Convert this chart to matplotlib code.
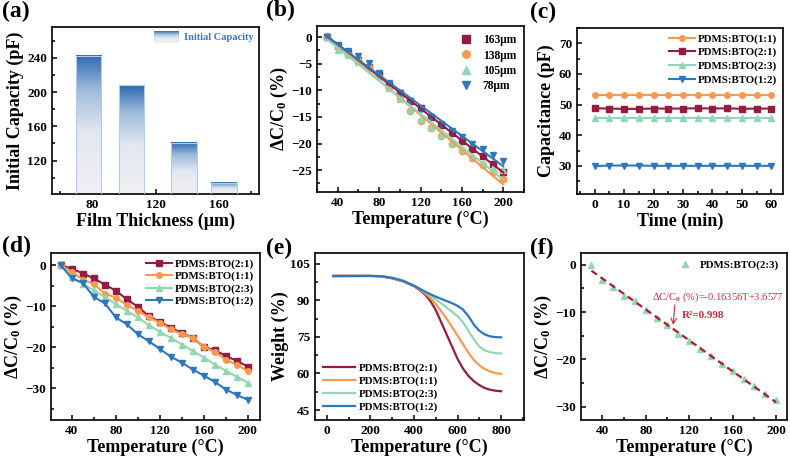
import numpy as np
import matplotlib
matplotlib.use("Agg")
import matplotlib.pyplot as plt
from matplotlib.colors import LinearSegmentedColormap
from matplotlib.ticker import MultipleLocator

plt.rcParams['font.family'] = ['Liberation Serif', 'DejaVu Serif']
plt.rcParams['font.weight'] = 'bold'
plt.rcParams['axes.labelweight'] = 'bold'
plt.rcParams['mathtext.fontset'] = 'custom'
plt.rcParams['mathtext.rm'] = 'Liberation Serif:bold'
plt.rcParams['mathtext.it'] = 'Liberation Serif:bold:italic'
plt.rcParams['mathtext.bf'] = 'Liberation Serif:bold'
plt.rcParams['axes.linewidth'] = 1.2

RED = '#941c41'
ORANGE = '#f8994f'
MINT = '#92d6b3'
BLUE = '#2f77bd'

# (a) initial capacity vs film thickness
thickness = [78, 105, 138, 163]
capacity = [242.7, 208.0, 141.0, 94.4]

# (b) dC/C0 vs temperature for four thicknesses
temp = list(range(30, 201, 10))
b_163 = [0, -1.6, -2.9, -4.2, -5.6, -7.0, -8.9, -10.4, -12.0, -13.4, -15.0, -16.5, -18.0, -19.5, -21.0, -22.4, -23.9, -25.3]
b_138 = [0.3, -1.8, -3.2, -4.3, -5.6, -7.5, -9.6, -11.5, -13.9, -15.7, -17.1, -18.6, -20.1, -21.4, -22.8, -24.1, -25.4, -26.6]
b_105 = [0, -2.4, -3.4, -4.6, -5.8, -7.3, -9.6, -11.7, -13.7, -15.3, -16.8, -18.3, -19.8, -21.1, -22.4, -23.6, -24.5, -25.0]
b_78 = [0, -1.4, -2.6, -3.6, -4.9, -6.7, -8.7, -10.4, -12.0, -13.5, -15.0, -16.4, -17.6, -18.8, -20.0, -21.1, -22.2, -23.3]
b_labels = ['163μm', '138μm', '105μm', '78μm']

# (c) capacitance stability over time
time_min = list(range(0, 61, 5))
c_11 = [53.1] * 13
c_21 = [48.8, 48.7, 48.6, 48.6, 48.7, 48.7, 48.7, 48.8, 48.7, 48.8, 48.6, 48.7, 48.7]
c_23 = [45.6] * 13
c_12 = [29.9, 30.1, 30.1, 30.1, 30.0, 30.0, 30.0, 30.0, 30.0, 30.0, 30.0, 30.0, 30.0]

# (d) dC/C0 vs temperature for four ratios
d_21 = [0, -0.8, -2.0, -3.2, -4.7, -6.2, -8.3, -10.1, -12.4, -13.8, -15.2, -16.5, -17.7, -19.9, -20.7, -22.1, -23.3, -24.7]
d_11 = [0, -1.6, -3.5, -4.6, -6.9, -7.9, -9.7, -11.1, -12.7, -14.0, -15.6, -16.8, -17.6, -19.9, -21.1, -23.0, -24.3, -25.8]
d_23 = [0, -2.8, -4.5, -6.1, -7.7, -9.5, -11.1, -12.7, -14.6, -16.2, -17.7, -19.3, -20.9, -22.5, -24.2, -25.7, -27.2, -28.6]
d_12 = [0, -3.2, -4.3, -7.7, -9.3, -12.7, -14.4, -16.8, -18.5, -20.4, -22.3, -23.7, -25.4, -26.9, -28.4, -30.3, -31.6, -32.8]

# (e) TGA weight loss
t_tga = [30, 100, 150, 200, 250, 300, 350, 400, 425, 450, 475, 500, 525, 550, 575, 600, 625, 650, 675, 700, 725, 750, 775, 800]
w_21 = [100, 100, 100, 100, 99.8, 99.0, 97.8, 95.8, 94.3, 92.5, 89.8, 86.0, 81.0, 76.0, 71.0, 66.0, 62.0, 59.0, 56.8, 55.2, 54.0, 53.3, 52.9, 52.7]
w_11 = [100, 100, 100, 100, 99.9, 99.2, 98.0, 96.0, 94.6, 93.0, 91.0, 88.5, 85.5, 82.5, 79.0, 75.5, 72.0, 68.5, 65.5, 63.3, 61.8, 60.8, 60.1, 59.8]
w_23 = [99.7, 99.8, 99.9, 100, 99.9, 99.2, 98.0, 96.0, 94.8, 93.4, 92.0, 90.4, 88.8, 87.0, 85.3, 83.5, 81.0, 77.5, 74.0, 71.0, 69.5, 68.7, 68.3, 68.2]
w_12 = [100, 100, 100, 100, 99.9, 99.2, 98.0, 96.0, 94.8, 93.6, 92.5, 91.5, 90.6, 89.7, 88.8, 87.7, 86.2, 83.5, 80.0, 77.5, 76.0, 75.2, 74.9, 74.8]

# (f) linear fit for PDMS:BTO(2:3)
f_23 = [0, -3.3, -4.6, -6.5, -7.7, -9.5, -11.2, -12.8, -14.6, -16.2, -17.8, -19.3, -20.9, -22.5, -24.2, -25.7, -27.2, -28.6]
fit_slope = -0.16356
fit_icept = 3.6577

W, H = 790, 459
fig = plt.figure(figsize=(7.9, 4.59), dpi=100)


def add_ax(l, t, r, b):
    return fig.add_axes([l / W, 1 - b / H, (r - l) / W, (b - t) / H])


def style(ax, xmaj, xmin, ymaj, ymin):
    ax.xaxis.set_major_locator(MultipleLocator(xmaj))
    ax.xaxis.set_minor_locator(MultipleLocator(xmin))
    ax.yaxis.set_major_locator(MultipleLocator(ymaj))
    ax.yaxis.set_minor_locator(MultipleLocator(ymin))
    ax.tick_params(which='both', direction='in', labelsize=9.5, width=1.1)
    ax.tick_params(which='major', length=3.5)
    ax.tick_params(which='minor', length=2)


def panel(x, y, letter):
    fig.text(x / W, 1 - y / H, letter, fontsize=17, fontweight='bold', va='top', ha='left')


ylab = r'ΔC/C$_\mathrm{0}$ (%)'
leg_kw = dict(frameon=False, prop={'size': 7.8, 'weight': 'bold'})

# ---------- (a)
ax = add_ax(52, 27, 259, 194)
ylo, yhi = 81, 276
cmap = LinearSegmentedColormap.from_list(
    'bar', [(0, '#f0f0f1'), (0.45, '#e2e7ef'), (0.75, '#9fbbdc'), (1, '#2d6ab0')])
grad = np.linspace(0, 1, 256).reshape(-1, 1)
bw = 16
for xc, h in zip(thickness, capacity):
    ax.imshow(grad, extent=[xc - bw / 2, xc + bw / 2, ylo, h], aspect='auto',
              cmap=cmap, origin='lower', zorder=2)
ax.bar(thickness, capacity, width=bw, color='none', edgecolor='#b3cbe6', lw=0.8, zorder=3)
ax.imshow(grad, extent=[0.493, 0.609, 0.902, 0.97], transform=ax.transAxes,
          aspect='auto', cmap=cmap, origin='lower', zorder=4)
ax.text(0.64, 0.936, 'Initial Capacity', transform=ax.transAxes, color='#3b78b8',
        fontsize=7.5, fontweight='bold', va='center')
ax.set_xlim(55, 185)
ax.set_ylim(ylo, yhi)
style(ax, 40, 20, 40, 20)
ax.set_xlabel('Film Thickness (μm)', fontsize=13, labelpad=1)
ax.set_ylabel('Initial Capacity (pF)', fontsize=13, labelpad=2)
panel(2, 1, '(a)')

# ---------- (b)
ax = add_ax(317, 26, 524, 192)
b_series = [b_163, b_138, b_105, b_78]
b_colors = [RED, ORANGE, MINT, BLUE]
b_markers = ['s', 'o', '^', 'v']
for ys, c, m, lab in zip(b_series, b_colors, b_markers, b_labels):
    ax.plot(temp, ys, ls='none', marker=m, ms=4.5, color=c, label=lab, zorder=2)
for ys, c in zip(b_series, b_colors):
    k, q = np.polyfit(temp, ys, 1)
    tt = np.array([temp[0], temp[-1]])
    ax.plot(tt, k * tt + q, color=c, lw=1.5, zorder=3)
ax.set_xlim(20, 220)
ax.set_ylim(-29.1, 2.1)
style(ax, 40, 20, 5, 2.5)
ax.set_xlabel('Temperature (°C)', fontsize=13, labelpad=1)
ax.set_ylabel(ylab, fontsize=13, labelpad=1)
ax.legend(loc='upper right', handletextpad=0.9, labelspacing=0.3, borderaxespad=0.3,
          handlelength=1.0, markerscale=1.2, frameon=False,
          prop={'size': 8.3, 'weight': 'bold'})
panel(266, 0, '(b)')

# ---------- (c)
ax = add_ax(577, 28, 783, 194)
for ys, c, m, lab in [(c_11, ORANGE, 'o', 'PDMS:BTO(1:1)'), (c_21, RED, 's', 'PDMS:BTO(2:1)'),
                      (c_23, MINT, '^', 'PDMS:BTO(2:3)'), (c_12, BLUE, 'v', 'PDMS:BTO(1:2)')]:
    ax.plot(time_min, ys, color=c, marker=m, ms=4, lw=1.5, label=lab)
ax.set_xlim(-6, 64)
ax.set_ylim(20.8, 75)
style(ax, 10, 5, 10, 5)
ax.set_xlabel('Time (min)', fontsize=13, labelpad=1)
ax.set_ylabel('Capacitance (pF)', fontsize=13, labelpad=3)
ax.legend(loc='upper right', handlelength=2.4, handletextpad=0.3, labelspacing=0.35,
          borderaxespad=0.15, **leg_kw)
panel(530, 2, '(c)')

# ---------- (d)
ax = add_ax(51, 253, 260, 420)
for ys, c, m, lab in [(d_21, RED, 's', 'PDMS:BTO(2:1)'), (d_11, ORANGE, 'o', 'PDMS:BTO(1:1)'),
                      (d_23, MINT, '^', 'PDMS:BTO(2:3)'), (d_12, BLUE, 'v', 'PDMS:BTO(1:2)')]:
    ax.plot(temp, ys, color=c, marker=m, ms=4, lw=1.5, label=lab)
ax.set_xlim(21, 211)
ax.set_ylim(-37.7, 3)
style(ax, 40, 20, 10, 5)
ax.set_xlabel('Temperature (°C)', fontsize=13, labelpad=1)
ax.set_ylabel(ylab, fontsize=13, labelpad=1)
ax.legend(loc='upper right', handlelength=2.4, handletextpad=0.3, labelspacing=0.25,
          borderaxespad=0.15, **leg_kw)
panel(2, 236, '(d)')

# ---------- (e)
ax = add_ax(315, 253, 524, 420)
for ys, c, lab in [(w_21, RED, 'PDMS:BTO(2:1)'), (w_11, ORANGE, 'PDMS:BTO(1:1)'),
                   (w_23, MINT, 'PDMS:BTO(2:3)'), (w_12, BLUE, 'PDMS:BTO(1:2)')]:
    ax.plot(t_tga, ys, color=c, lw=1.6, label=lab)
ax.set_xlim(-54, 905)
ax.set_ylim(40.9, 109.4)
style(ax, 200, 100, 15, 7.5)
ax.set_xlabel('Temperature (°C)', fontsize=13, labelpad=1)
ax.set_ylabel('Weight (%)', fontsize=13, labelpad=1)
ax.legend(loc='lower left', handlelength=3.0, handletextpad=0.3, labelspacing=0.3,
          borderaxespad=0.3, **leg_kw)
panel(266, 238, '(e)')

# ---------- (f)
ax = add_ax(581, 253, 787, 420)
ax.plot(temp, f_23, ls='none', marker='^', ms=4.5, color=MINT, label='PDMS:BTO(2:3)', zorder=2)
tt = np.array(temp, dtype=float)
ax.plot(tt, fit_slope * tt + fit_icept, color='#b0182e', lw=1.6, ls=(0, (3, 2)), zorder=3)
ax.text(86, -6.8, r'ΔC/C$_\mathrm{0}$ (%)=-0.16356T+3.6577', color='#c0303c', fontsize=7.6,
        va='center', ha='left', fontweight='normal')
ax.text(113, -10.7, 'R²=0.998', color='#c0303c', fontsize=8, va='center', ha='left')
ax.annotate('', xy=(105, -13.3), xytext=(107, -7.9),
            arrowprops=dict(arrowstyle='->', color='#c0303c', lw=0.8))
ax.set_xlim(20.4, 210)
ax.set_ylim(-32.8, 2.5)
style(ax, 40, 20, 10, 5)
ax.set_xlabel('Temperature (°C)', fontsize=13, labelpad=1)
ax.set_ylabel(ylab, fontsize=13, labelpad=1)
ax.legend(loc='upper right', handlelength=1.0, handletextpad=0.9, borderaxespad=0.3,
          markerscale=1.1, **leg_kw)
panel(530, 238, '(f)')

fig.savefig('out.png', dpi=100)
